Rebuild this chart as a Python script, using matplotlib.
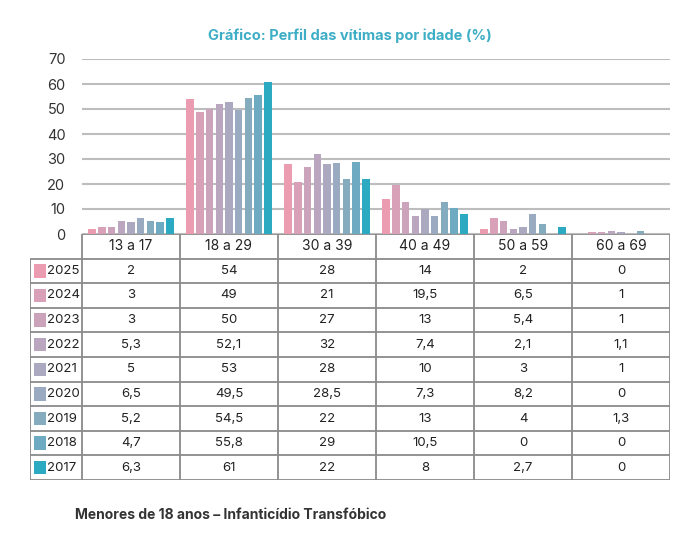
import matplotlib.pyplot as plt
from matplotlib.patches import Rectangle

plt.rcParams['font.family'] = ['Inter', 'DejaVu Sans']

ages = ["13 a 17", "18 a 29", "30 a 39", "40 a 49", "50 a 59", "60 a 69"]
years = ["2025", "2024", "2023", "2022", "2021", "2020", "2019", "2018", "2017"]
colors = ["#EB9CB0", "#D9A1B7", "#CBA4BC", "#BAA6BF", "#AAA9BF", "#9AAAC0",
          "#84ABBE", "#6EAAC2", "#2BAAC2"]

v2025 = [2, 54, 28, 14, 2, 0]
v2024 = [3, 49, 21, 19.5, 6.5, 1]
v2023 = [3, 50, 27, 13, 5.4, 1]
v2022 = [5.3, 52.1, 32, 7.4, 2.1, 1.1]
v2021 = [5, 53, 28, 10, 3, 1]
v2020 = [6.5, 49.5, 28.5, 7.3, 8.2, 0]
v2019 = [5.2, 54.5, 22, 13, 4, 1.3]
v2018 = [4.7, 55.8, 29, 10.5, 0, 0]
v2017 = [6.3, 61, 22, 8, 2.7, 0]
series = [v2025, v2024, v2023, v2022, v2021, v2020, v2019, v2018, v2017]

W, H = 698, 535
fig = plt.figure(figsize=(W / 100, H / 100), dpi=100)

def px_axes(x0, y0, x1, y1):
    return fig.add_axes([x0 / W, 1 - y1 / H, (x1 - x0) / W, (y1 - y0) / H])

# bars
ax = px_axes(82, 59, 670, 234)
step = 0.099
for k, vals in enumerate(series):
    xs = [j + 0.5 + (k - 4) * step for j in range(len(ages))]
    ax.bar(xs, vals, width=0.077, color=colors[k], zorder=3)
ax.set_xlim(0, len(ages))
ax.set_ylim(0, 70)
ax.set_yticks(range(0, 71, 10))
ax.yaxis.grid(True, color="#BDBDBD", lw=1.5, zorder=0)
ax.set_xticks([])
ax.tick_params(axis="y", length=0, pad=12, labelsize=10.5, labelcolor="#333333")
for s in ax.spines.values():
    s.set_visible(False)

# table
tx = px_axes(30, 234, 670, 480)
lab_w = 52 / 98
tx.set_xlim(-lab_w, len(ages))
tx.set_ylim(len(years) + 1, 0)
tx.axis("off")
lc = "#8A8A8A"
tx.hlines(0, 0, len(ages), color=lc, lw=1.3)
tx.hlines(range(1, len(years) + 2), -lab_w, len(ages), color=lc, lw=1.3)
tx.vlines(range(len(ages) + 1), 0, len(years) + 1, color=lc, lw=1.3)
tx.vlines(-lab_w, 1, len(years) + 1, color=lc, lw=1.3)
for j, a in enumerate(ages):
    tx.text(j + 0.5, 0.5, a, ha="center", va="center", fontsize=10, color="#222222")
for i, (y, vals) in enumerate(zip(years, series)):
    r = i + 1.5
    tx.add_patch(Rectangle((-0.49, r - 0.27), 0.12, 0.54, color=colors[i], lw=0))
    tx.text(-0.36, r, y, ha="left", va="center", fontsize=9.5, color="#222222")
    for j, v in enumerate(vals):
        t = f"{v:g}".replace(".", ",")
        tx.text(j + 0.5, r, t, ha="center", va="center", fontsize=9.5, color="#222222")

fig.text(350 / W, 1 - 36 / H, "Gráfico: Perfil das vítimas por idade (%)",
         ha="center", va="center", fontsize=10.5, fontweight="bold", color="#3DAEC5")
fig.text(75 / W, 1 - 515 / H, "Menores de 18 anos – Infanticídio Transfóbico",
         ha="left", va="center", fontsize=10, fontweight="bold", color="#333333")

fig.savefig("out.png", dpi=100, facecolor="white")
